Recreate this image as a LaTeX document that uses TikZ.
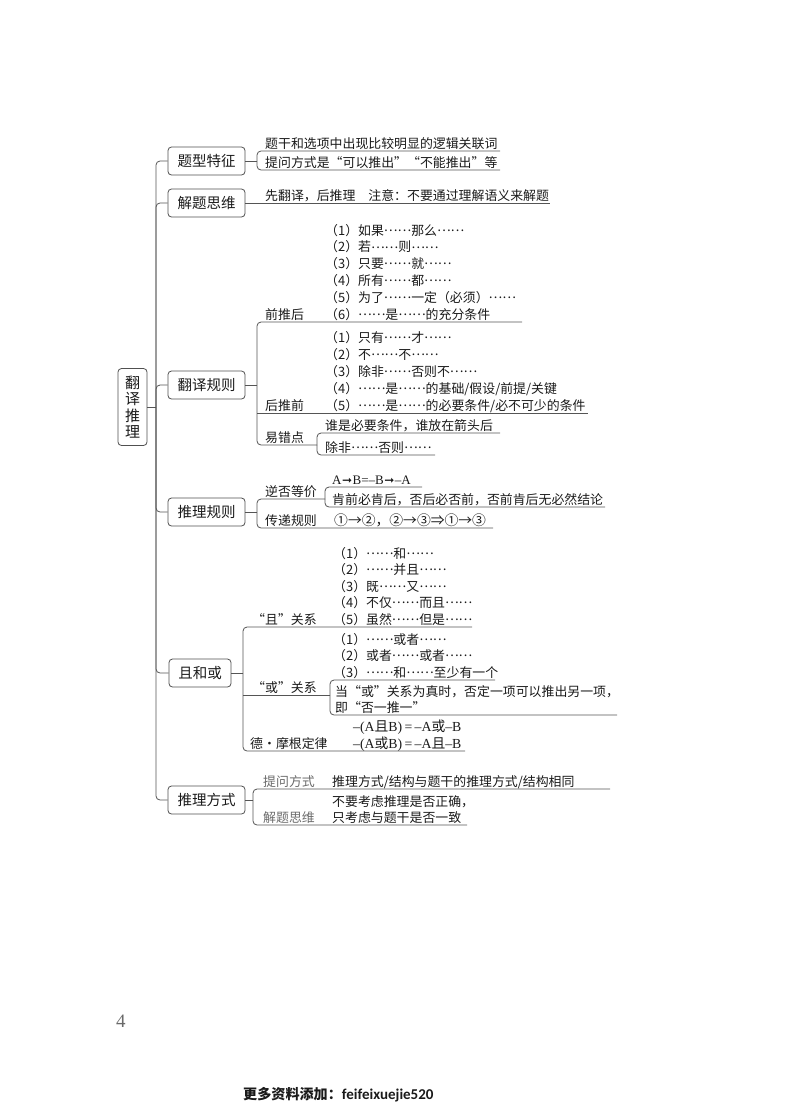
\documentclass[tikz,border=0pt]{standalone}
\usepackage{fontspec}
\setmainfont{Liberation Serif}
\newfontfamily\cjk{Noto Sans CJK SC}
\newfontfamily\lat{Liberation Serif}
\newfontfamily\dvs{DejaVu Sans}
\newfontfamily\carl{Carlito}
\newcommand\ldd{\raisebox{0.28em}{……}}
\newcommand\arr{{\dvs\fontsize{12}{13}\selectfont\kern0.5pt ➞\kern0.5pt}}
\definecolor{txt}{HTML}{1A1A1A}
\definecolor{linec}{HTML}{555555}
\definecolor{boxc}{HTML}{505050}
\definecolor{graytxt}{HTML}{6A6A6A}
\tikzset{
  ln/.style={draw=linec, line width=0.8pt},
  br/.style={ln, rounded corners=4pt},
  box/.style={draw=boxc, line width=0.8pt, rounded corners=3.5pt, minimum width=77pt,
    minimum height=28pt, inner sep=0pt, text=txt, font={\cjk\fontsize{14.5}{16}\selectfont}},
  rootbox/.style={box, minimum width=29pt, minimum height=77pt, align=center,
    font={\cjk\fontsize{15}{16.5}\selectfont}},
  tx/.style={anchor=base west, inner sep=0pt, text=txt, font={\cjk\fontsize{12.9}{15}\selectfont}},
  gr/.style={tx, text=graytxt},
}
\begin{document}
\begin{tikzpicture}[x=1pt,y=-1pt]
\useasboundingbox (0,0) rectangle (800,1114);
% root and main branches
\node[rootbox] (root) at (132.5,407) {翻\\译\\推\\理};
\coordinate (sp) at (156,407);
\draw[ln] (root.east) -- (sp);
\node[box] (b1) at (206.5,161) {题型特征};
\node[box] (b2) at (206.5,203) {解题思维};
\node[box] (b3) at (206.5,385) {翻译规则};
\node[box] (b4) at (206.5,512) {推理规则};
\node[box, minimum width=62pt] (b5) at (200,673) {且和或};
\node[box] (b6) at (206.5,800) {推理方式};
\foreach \b in {b1,b2,b3,b4,b5,b6} \draw[br] (sp) |- (\b.west);

% ---- branch 1
\coordinate (j1) at (257,161);
\draw[ln] (b1.east) -- (j1);
\coordinate (e11) at (500,151);
\coordinate (e12) at (500,170);
\draw[br] (j1) |- (e11);
\draw[br] (j1) |- (e12);
\node[tx] (t11) at (265,148) {题干和选项中出现比较明显的逻辑关联词};
\node[tx] (t12) at (265,167) {提问方式是“可以推出”“不能推出”等};

% ---- branch 2
\coordinate (e21) at (550,203);
\draw[ln] (b2.east) -- (e21);
\node[tx] (t21) at (265,200) {先翻译，后推理　注意：不要通过理解语义来解题};

% ---- branch 3
\coordinate (j3) at (257,385);
\draw[ln] (b3.east) -- (j3);
\coordinate (e31) at (522,322);
\coordinate (m32) at (257,413);
\coordinate (e32) at (588,413);
\coordinate (e33) at (317,445);
\draw[br] (j3) |- (e31);
\draw[br] (j3) |- (e33);
\draw[ln] (m32) -- (e32);
\node[tx] (l31) at (265,319) {前推后};
\node[tx] (q1) at (325,235) {（1）如果\ldd{}那么\ldd};
\node[tx] (q2) at (325,251.8) {（2）若\ldd{}则\ldd};
\node[tx] (q3) at (325,268.6) {（3）只要\ldd{}就\ldd};
\node[tx] (q4) at (325,285.4) {（4）所有\ldd{}都\ldd};
\node[tx] (q5) at (325,302.2) {（5）为了\ldd{}一定（必须）\ldd};
\node[tx] (q6) at (325,319) {（6）\ldd{}是\ldd{}的充分条件};
\node[tx] (l32) at (265,410) {后推前};
\node[tx] (h1) at (325,342.4) {（1）只有\ldd{}才\ldd};
\node[tx] (h2) at (325,359.3) {（2）不\ldd{}不\ldd};
\node[tx] (h3) at (325,376.2) {（3）除非\ldd{}否则不\ldd};
\node[tx] (h4) at (325,393.1) {（4）\ldd{}是\ldd{}的基础/假设/前提/关键};
\node[tx] (h5) at (325,410) {（5）\ldd{}是\ldd{}的必要条件/必不可少的条件};
\node[tx] (l33) at (265,442) {易错点};
\coordinate (e331) at (500,433);
\coordinate (e332) at (435,455);
\draw[br] (e33) |- (e331);
\draw[br] (e33) |- (e332);
\node[tx] (y1) at (325,430) {谁是必要条件，谁放在箭头后};
\node[tx] (y2) at (325,452) {除非\ldd{}否则\ldd};

% ---- branch 4
\coordinate (j4) at (257,512);
\draw[ln] (b4.east) -- (j4);
\coordinate (e41) at (325,499);
\coordinate (e42) at (493,528);
\draw[br] (j4) |- (e41);
\draw[br] (j4) |- (e42);
\node[tx] (l41) at (265,496) {逆否等价};
\coordinate (e411) at (422,487);
\coordinate (e412) at (605,507);
\draw[br] (e41) |- (e411);
\draw[br] (e41) |- (e412);
\node[tx, font={\lat\fontsize{13}{15}\selectfont}] (n1) at (332,484) {A\arr{}B=–B\arr{}–A};
\node[tx] (n2) at (332,504) {肯前必肯后，否后必否前，否前肯后无必然结论};
\node[tx] (l42) at (265,525) {传递规则};
\node[tx, font={\cjk\fontsize{13.8}{15}\selectfont}] (n3) at (334,525) {①→②，②→③⇒①→③};

% ---- branch 5
\coordinate (j5) at (243,673);
\draw[ln] (b5.east) -- (j5);
\coordinate (e51) at (472,627);
\coordinate (m52) at (243,695);
\coordinate (e52) at (330,695);
\coordinate (e53) at (465,751);
\draw[br] (j5) |- (e51);
\draw[br] (j5) |- (e53);
\draw[ln] (m52) -- (e52);
\node[tx] (l51) at (252,624) {“且”关系};
\node[tx] (a1) at (333,558) {（1）\ldd{}和\ldd};
\node[tx] (a2) at (333,574.5) {（2）\ldd{}并且\ldd};
\node[tx] (a3) at (333,591) {（3）既\ldd{}又\ldd};
\node[tx] (a4) at (333,607.5) {（4）不仅\ldd{}而且\ldd};
\node[tx] (a5) at (333,624) {（5）虽然\ldd{}但是\ldd};
\node[tx] (l52) at (252,692) {“或”关系};
\coordinate (e521) at (495,680);
\coordinate (e522) at (617,715);
\draw[br] (e52) |- (e521);
\draw[br] (e52) |- (e522);
\node[tx] (o1) at (333,644) {（1）\ldd{}或者\ldd};
\node[tx] (o2) at (333,660.5) {（2）或者\ldd{}或者\ldd};
\node[tx] (o3) at (333,677) {（3）\ldd{}和\ldd{}至少有一个};
\node[tx] (o4) at (335,696) {当“或”关系为真时，否定一项可以推出另一项，};
\node[tx] (o5) at (335,712.5) {即“否一推一”};
\node[tx] (l53) at (250,748) {德·摩根定律};
\node[tx, font={\lat\fontsize{13.8}{15}\selectfont}] (d1) at (353,731) {–(A{\cjk 且}B)\,=\,–A{\cjk 或}–B};
\node[tx, font={\lat\fontsize{13.8}{15}\selectfont}] (d2) at (353,748) {–(A{\cjk 或}B)\,=\,–A{\cjk 且}–B};

% ---- branch 6
\coordinate (j6) at (253,800);
\draw[ln] (b6.east) -- (j6);
\coordinate (e61) at (610,789);
\coordinate (e62) at (467,825);
\draw[br] (j6) |- (e61);
\draw[br] (j6) |- (e62);
\node[gr] (l61) at (263,786) {提问方式};
\node[tx] (r1) at (332,786) {推理方式/结构与题干的推理方式/结构相同};
\node[gr] (l62) at (263,822) {解题思维};
\node[tx] (r2) at (332,806) {不要考虑推理是否正确，};
\node[tx] (r3) at (332,822) {只考虑与题干是否一致};

% ---- page furniture
\node[anchor=base west, inner sep=0pt, text=graytxt, font={\lat\fontsize{19}{20}\selectfont}] (pg) at (116,1027) {4};
\node[anchor=base west, inner sep=0pt, text=txt] (foot) at (243,1099)
  {\cjk\bfseries\fontsize{14.1}{16}\selectfont 更多资料添加：{\carl\bfseries\fontsize{15}{17}\selectfont feifeixuejie520}};
\end{tikzpicture}
\end{document}
